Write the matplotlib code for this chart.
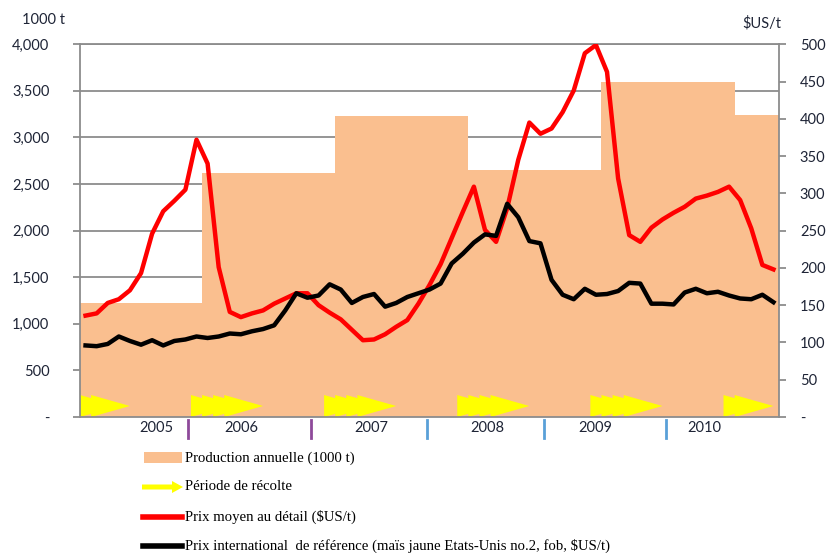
import numpy as np
import matplotlib
matplotlib.use("Agg")
import matplotlib.pyplot as plt
from matplotlib.patches import Polygon, Rectangle, FancyArrow
from matplotlib.lines import Line2D
import matplotlib.transforms as mtransforms

# ---------------- data ----------------
# monthly retail price ($US/t), 63 months
retail_price = [136, 139, 153, 158, 170, 193, 246, 276, 290, 305,
                372, 340, 201, 141, 134, 139, 143, 152, 159, 166,
                166, 150, 140, 131, 117, 103, 104, 111, 121, 130,
                152, 177, 205, 240, 275, 309, 251, 235, 280, 345,
                395, 380, 387, 409, 438, 488, 499, 463, 320, 244,
                235, 254, 265, 274, 282, 293, 297, 302, 309, 291,
                253, 204, 198]
# monthly international reference price ($US/t)
intl_price = [96, 95, 98, 108, 102, 97, 103, 96, 102, 104,
              108, 106, 108, 112, 111, 115, 118, 123, 143, 166,
              160, 163, 178, 171, 153, 161, 165, 148, 153, 161,
              166, 171, 179, 206, 219, 234, 245, 243, 286, 268,
              236, 233, 184, 164, 158, 172, 164, 165, 169, 180,
              179, 152, 152, 151, 167, 172, 166, 168, 163, 159,
              158, 164, 154]
# annual production (1000 t) and number of chart months each campaign covers
production = [1225, 2620, 3230, 2650, 3600, 3240]
production_months = [11, 12, 12, 12, 12, 4]
# harvest periods: first month index and number of months
harvest_start = [-2, 10, 22, 34, 46, 58]
harvest_len = [4, 4, 4, 4, 4, 2]
year_labels = ["2005", "2006", "2007", "2008", "2009", "2010"]

left_ticks = list(range(0, 4001, 500))
right_ticks = list(range(0, 501, 50))

legend_labels = ["Production annuelle (1000 t)",
                 "Période de récolte",
                 r"Prix moyen au détail (\$US/t)",
                 r"Prix international  de référence (maïs jaune Etats-Unis no.2, fob, \$US/t)"]

# ---------------- layout ----------------
W, H = 828, 553
fig = plt.figure(figsize=(W / 100, H / 100), dpi=100)
px_l, px_r, px_t, px_b = 80, 779, 44.3, 417
ax = fig.add_axes([px_l / W, 1 - px_b / H, (px_r - px_l) / W, (px_b - px_t) / H])
ax2 = ax.twinx()

PEACH = "#FABF8F"
GRID = "#8C8C8C"
TXT = "#1E2436"
num_font = "Lato"
NFS = 10.5

n = len(retail_price)
x = np.arange(n)
ax.set_xlim(-0.5, n - 0.5)
ax.set_ylim(0, 4000)
ax2.set_ylim(0, 500)

# production as filled steps
edges = np.concatenate([[-0.5], -0.5 + np.cumsum(production_months)])
ax.stairs(production, edges, fill=True, color=PEACH, lw=0, zorder=1)

# harvest arrows: overlapping triangles
head_len = 3.5
tri_h = 236
for s, L in zip(harvest_start, harvest_len):
    for m in range(s, s + L):
        b = m - 0.5
        tri = Polygon([[b, 0], [b, tri_h], [b + head_len, tri_h / 2]],
                      closed=True, facecolor="#FFFF00", edgecolor="none", zorder=2)
        ax.add_patch(tri)

# grid
ax.set_yticks(left_ticks)
ax.yaxis.grid(True, color=GRID, lw=1.3)
ax.set_axisbelow(True)
ax.set_xticks([])

def fmt_left(v):
    return "-" if v == 0 else f"{v:,}"
ax.set_yticklabels([fmt_left(v) for v in left_ticks], fontsize=NFS,
                   family=num_font, color=TXT)
ax.tick_params(axis="y", direction="out", length=5, width=1.3, color=GRID, pad=17)

ax2.set_yticks(right_ticks)
ax2.set_yticklabels(["-" if v == 0 else str(v) for v in right_ticks], fontsize=NFS,
                    family=num_font, color=TXT)
ax2.tick_params(axis="y", direction="out", length=5, width=1.3, color=GRID, pad=10)

for sp in ["left", "bottom", "top"]:
    ax.spines[sp].set_color(GRID)
    ax.spines[sp].set_linewidth(1.3)
ax.spines["right"].set_visible(False)
for sp in ["left", "bottom", "top"]:
    ax2.spines[sp].set_visible(False)
ax2.spines["right"].set_color(GRID)
ax2.spines["right"].set_linewidth(1.3)

# price lines
ax2.plot(x, retail_price, color="#FF0000", lw=3.2, zorder=3, solid_joinstyle="round")
ax2.plot(x, intl_price, color="#000000", lw=3.2, zorder=4, solid_joinstyle="round")

# year labels and separators (bottom)
trans = mtransforms.blended_transform_factory(ax.transData, ax.transAxes)
label_pos = [6.35, 14.0, 25.8, 36.2, 45.9, 55.8]
sep_pos = [9.23, 20.3, 30.8, 41.3, 52.3]
sep_col = ["#8E4A9A", "#8E4A9A", "#5AA0D8", "#5AA0D8", "#5AA0D8"]
for lab, p in zip(year_labels, label_pos):
    ax.text(p, -0.03, lab, transform=trans, ha="center", va="center",
            fontsize=NFS, family=num_font, color=TXT, clip_on=False)
for p, c in zip(sep_pos, sep_col):
    ax.add_line(Line2D([p, p], [-0.008, -0.057], transform=trans, color=c,
                       lw=2, clip_on=False))

# axis titles
fig.text(22 / W, 1 - 20 / H, "1000 t", fontsize=NFS, family=num_font, color=TXT,
         ha="left", va="center")
fig.text(742 / W, 1 - 23 / H, r"\$US/t", fontsize=NFS, family=num_font, color=TXT,
         ha="left", va="center")

# legend (manual)
ys = [458, 487, 517, 546]
def fy(p):
    return 1 - p / H
fig.add_artist(Rectangle((144 / W, fy(463)), 38 / W, 11 / H, transform=fig.transFigure,
                         facecolor=PEACH, edgecolor="none"))
fig.add_artist(FancyArrow(142 / W, fy(ys[1]), 30 / W, 0, width=5 / H,
                          head_width=12 / H, head_length=11 / W,
                          length_includes_head=False, transform=fig.transFigure,
                          facecolor="#FFFF00", edgecolor="none"))
fig.add_artist(Line2D([143 / W, 182 / W], [fy(ys[2]), fy(ys[2])], color="#FF0000",
                      lw=4, transform=fig.transFigure))
fig.add_artist(Line2D([143 / W, 182 / W], [fy(ys[3]), fy(ys[3])], color="#000000",
                      lw=4, transform=fig.transFigure))
for lab, yy in zip(legend_labels, ys):
    fig.text(185 / W, fy(yy), lab, fontsize=10.6, family="Liberation Serif",
             color="#000000", ha="left", va="center")

fig.savefig("out.png", dpi=100)
